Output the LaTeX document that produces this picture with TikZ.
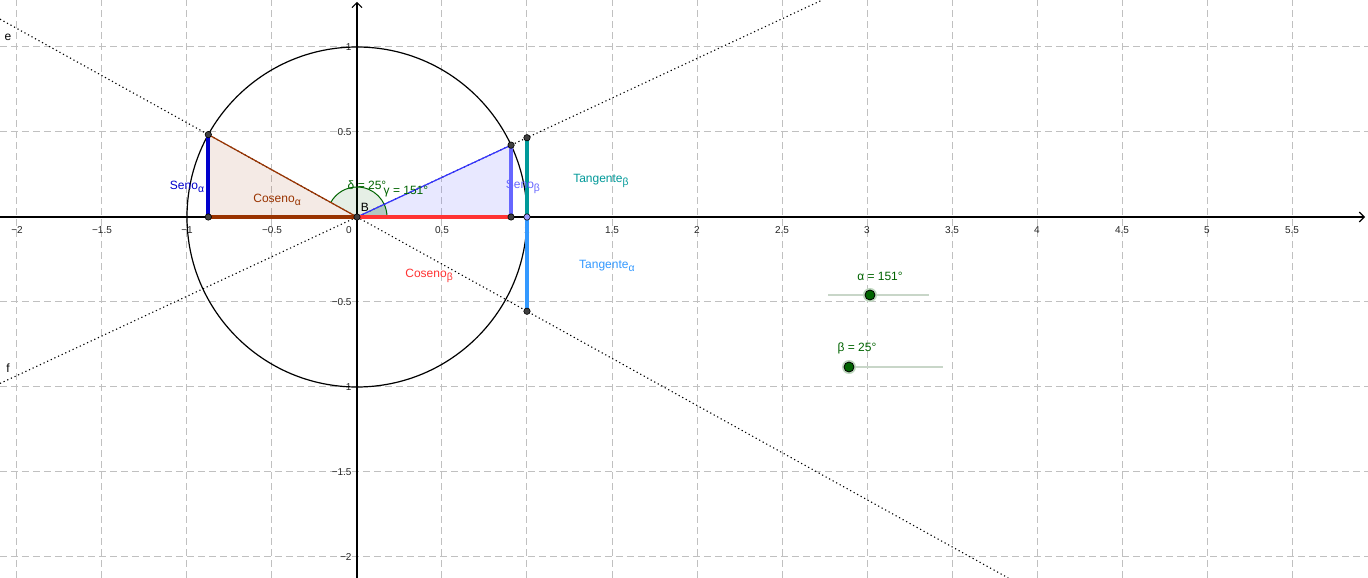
\documentclass[tikz,border=0pt]{standalone}
\usepackage{fontspec}
\setmainfont{Liberation Sans}
\usetikzlibrary{arrows.meta}
\definecolor{gridc}{RGB}{192,192,192}
\definecolor{senoA}{RGB}{0,0,204}
\definecolor{cosA}{RGB}{153,51,0}
\definecolor{senoB}{RGB}{102,102,255}
\definecolor{hypB}{RGB}{51,51,255}
\definecolor{cosB}{RGB}{255,51,51}
\definecolor{tanB}{RGB}{0,153,153}
\definecolor{tanA}{RGB}{51,153,255}
\definecolor{ggreen}{RGB}{0,100,0}
\definecolor{ptc}{RGB}{64,64,64}
\definecolor{unitpt}{RGB}{153,153,255}
\definecolor{sliderc}{RGB}{200,214,200}
\newcommand{\gsub}[1]{\raisebox{-0.45ex}{\fontsize{5.2}{6}\selectfont #1}}
\tikzset{
  gridline/.style={gridc, line width=0.5pt, dash pattern=on 3.5pt off 2pt},
  axis/.style={black, line width=0.6pt, -{Straight Barb[length=2.5pt,width=5pt]}},
  dotline/.style={black, line width=0.55pt, dash pattern=on 0.6pt off 1.4pt},
  thickseg/.style={line width=2pt},
  pt/.style={circle, fill=ptc, draw=black, line width=0.3pt, inner sep=0pt, minimum size=3.2pt},
  slpt/.style={circle, fill=ggreen, draw=black, line width=0.4pt, inner sep=0pt, minimum size=5pt},
  halo/.style={circle, fill=ggreen!25, inner sep=0pt, minimum size=7pt},
  lbl/.style={inner sep=0pt, font=\fontsize{6}{7}\selectfont},
  tick/.style={inner sep=0pt, font=\fontsize{5}{6}\selectfont, black!85},
}
\begin{document}
\begin{tikzpicture}[x=85pt,y=85pt]
\useasboundingbox (-2.1,-2.12353) rectangle (5.94706,1.27647);
\fill[white] (-2.1,-2.12353) rectangle (5.94706,1.27647);
% grid
\foreach \x in {-2,-1.5,-1,-0.5,0.5,1,1.5,2,2.5,3,3.5,4,4.5,5,5.5}
  \draw[gridline] (\x,-2.12353) -- (\x,1.27647);
\foreach \y in {1,0.5,-0.5,-1,-1.5,-2}
  \draw[gridline] (-2.1,\y) -- (5.94706,\y);
% axes
\coordinate (xl) at (-2.1,0);
\coordinate (xr) at (5.93,0);
\coordinate (yb) at (0,-2.12353);
\coordinate (yt) at (0,1.266);
\draw[axis] (xl) -- (xr);
\draw[axis] (yb) -- (yt);
% tick labels
\foreach \x/\t in {-2/−2,-1.5/−1.5,-1/−1,-0.5/−0.5,0.5/0.5,1/1,1.5/1.5,2/2,2.5/2.5,3/3,3.5/3.5,4/4,4.5/4.5,5/5,5.5/5.5}
  \node[tick, anchor=north] at (\x,-0.055) {\t};
\node[tick, anchor=north] at (-0.047,-0.055) {0};
\foreach \y/\t in {1/1,0.5/0.5,-0.5/−0.5,-1/−1,-1.5/−1.5,-2/−2}
  \node[tick, anchor=east] at (-0.03,\y) {\t};
% key coordinates
\coordinate (O) at (0,0);
\coordinate (A) at (-0.87462,0.48481);
\coordinate (Ax) at (-0.87462,0);
\coordinate (Bp) at (0.90631,0.42262);
\coordinate (Bx) at (0.90631,0);
\coordinate (U) at (1,0);
\coordinate (TB) at (1,0.46631);
\coordinate (TA) at (1,-0.55431);
% circle
\draw[black, line width=0.6pt] (O) circle[radius=1];
% triangles
\fill[cosA, opacity=0.1] (O) -- (A) -- (Ax) -- cycle;
\fill[senoB, opacity=0.15] (O) -- (Bp) -- (Bx) -- cycle;
% angle sectors
\fill[ggreen, opacity=0.1] (O) -- (0.1765,0) arc[start angle=0, end angle=151, radius=0.1765] -- cycle;
\fill[ggreen, opacity=0.15] (O) -- (0.1765,0) arc[start angle=0, end angle=25, radius=0.1765] -- cycle;
\draw[ggreen, line width=0.5pt] (0.1765,0) arc[start angle=0, end angle=151, radius=0.1765];
% dotted lines e and f
\coordinate (e1) at (-2.1,1.16405);
\coordinate (e2) at (3.8309,-2.12353);
\coordinate (f1) at (-2.1,-0.97925);
\coordinate (f2) at (2.7374,1.27647);
\draw[dotline] (e1) -- (e2);
\draw[dotline] (f1) -- (f2);
% hypotenuses
\draw[cosA, line width=0.6pt] (O) -- (A);
\draw[hypB, line width=0.6pt] (O) -- (Bp);
% thick segments
\draw[thickseg, cosA] (Ax) -- (O);
\draw[thickseg, senoA] (Ax) -- (A);
\draw[thickseg, cosB] (O) -- (Bx);
\draw[thickseg, senoB] (Bx) -- (Bp);
\draw[thickseg, tanB] (U) -- (TB);
\draw[thickseg, tanA] (U) -- (TA);
% points
\node[pt] (pO) at (O) {};
\node[pt] (pA) at (A) {};
\node[pt] (pAx) at (Ax) {};
\node[pt] (pB) at (Bp) {};
\node[pt] (pBx) at (Bx) {};
\node[pt] (pTB) at (TB) {};
\node[pt] (pTA) at (TA) {};
\node[pt, fill=unitpt] (pU) at (U) {};
% labels
\node[lbl, senoA] at (-1.0,0.1765) {Seno\gsub{α}};
\node[lbl, cosA] at (-0.47,0.1) {Coseno\gsub{α}};
\node[lbl, senoB] at (0.976,0.176) {Seno\gsub{β}};
\node[lbl, tanB] at (1.435,0.212) {Tangente\gsub{β}};
\node[lbl, tanA] at (1.47,-0.288) {Tangente\gsub{α}};
\node[lbl, cosB] at (0.424,-0.347) {Coseno\gsub{β}};
\node[lbl, ggreen] at (0.0588,0.188) {δ = 25°};
\node[lbl, ggreen] at (0.288,0.147) {γ = 151°};
\node[lbl, black] at (0.047,0.059) {B};
\node[lbl, black] at (-2.053,1.0588) {e};
\node[lbl, black] at (-2.053,-0.888) {f};
% sliders
\coordinate (sa1) at (2.7706,-0.4588);
\coordinate (sa2) at (3.3647,-0.4588);
\coordinate (sb1) at (2.8941,-0.8824);
\coordinate (sb2) at (3.4471,-0.8824);
\draw[sliderc, line width=0.6pt] (sa1) -- (sa2);
\draw[sliderc, line width=0.6pt] (sb1) -- (sb2);
\node[halo] at (3.0176,-0.4588) {};
\node[slpt] (sla) at (3.0176,-0.4588) {};
\node[halo] at (sb1) {};
\node[slpt] (slb) at (sb1) {};
\node[lbl, ggreen] at (3.0765,-0.347) {α = 151°};
\node[lbl, ggreen] at (2.941,-0.7706) {β = 25°};
\end{tikzpicture}
\end{document}
